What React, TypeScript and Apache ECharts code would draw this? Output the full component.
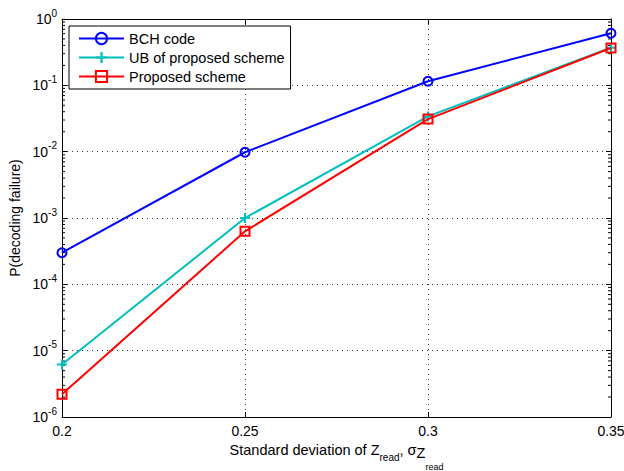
import React, { useEffect, useRef } from "react";
import * as echarts from "echarts";

const xValues = [0.2, 0.25, 0.3, 0.35];
const bchCode = [3.0e-4, 9.8e-3, 0.115, 0.61];
const ubProposed = [6.2e-6, 1.0e-3, 0.034, 0.37];
const proposedScheme = [2.2e-6, 6.3e-4, 0.031, 0.365];
const seriesNames = ["BCH code", "UB of proposed scheme", "Proposed scheme"];
const xTickInterval = 0.05;
const xMin = 0.2;
const xMax = 0.35;
const yMin = 1e-6;
const yMax = 1;
const minorMultipliers = [2, 3, 4, 5, 6, 7, 8, 9];
const minorDecades = [-6, -5, -4, -3, -2, -1];

const FONT = "'Liberation Sans', Arial, Helvetica, sans-serif";

export default function App() {
  const ref = useRef<HTMLDivElement>(null);
  useEffect(() => {
    if (!ref.current) return;
    const chart = echarts.init(ref.current, undefined, { renderer: "svg" });
    const pairs = (ys: number[]) => xValues.map((x, i) => [x, ys[i]]);
    const minorData: number[][] = [];
    minorDecades.forEach((d) =>
      minorMultipliers.forEach((m) => minorData.push([xMin, m * Math.pow(10, d)]))
    );
    const crossPath = "path://M4,0H6V4H10V6H6V10H4V6H0V4H4Z";
    const axisLineStyle = { color: "#000", width: 1 };
    const gridLine = { show: true, lineStyle: { color: "#333", type: [1, 4] as any, width: 1 } };
    const yLabelFmt = (v: number) => {
      const e = Math.round(Math.log10(v));
      return `{b|10}{e|${e}}`;
    };
    const yRich = {
      b: { fontSize: 14, fontFamily: FONT, color: "#000" },
      e: { fontSize: 10, fontFamily: FONT, color: "#000", padding: [0, 0, 12, 0] },
    };
    const option: any = {
      animation: false,
      backgroundColor: "#fff",
      textStyle: { fontFamily: FONT },
      grid: {
        left: 62,
        right: 13,
        top: 19,
        bottom: 54,
        containLabel: false,
        outerBoundsMode: "none",
      },
      legend: {
        data: seriesNames,
        orient: "vertical",
        left: 69,
        top: 26,
        padding: [5, 6, 5, 9],
        itemWidth: 45,
        itemHeight: 14,
        itemGap: 4,
        backgroundColor: "#fff",
        borderColor: "#000",
        borderWidth: 1,
        borderRadius: 0,
        textStyle: { fontSize: 14.5, color: "#000", fontFamily: FONT, padding: [0, 0, 0, 0] },
      },
      xAxis: [
        {
          type: "value",
          min: xMin,
          max: xMax,
          interval: xTickInterval,
          position: "bottom",
          axisLine: { show: true, lineStyle: axisLineStyle },
          axisTick: { show: true, inside: true, length: 5, lineStyle: { color: "#000" } },
          axisLabel: {
            show: true,
            fontSize: 14,
            color: "#000",
            fontFamily: FONT,
            margin: 7,
            formatter: (v: number) => String(parseFloat(v.toFixed(2))),
          },
          splitLine: gridLine,
          name: "Standard deviation of Z{s|read}, σ{z|Z}{ss|read}",
          nameLocation: "middle",
          nameGap: 4,
          nameTextStyle: {
            fontSize: 14.5,
            color: "#000",
            fontFamily: FONT,
            rich: {
              s: { fontSize: 10, fontFamily: FONT, color: "#000", padding: [14, 0, 0, 0] },
              z: { fontSize: 14.5, fontFamily: FONT, color: "#000", padding: [6, 0, 0, 0] },
              ss: { fontSize: 9, fontFamily: FONT, color: "#000", padding: [33, 0, 0, 0] },
            },
          },
        },
        {
          type: "value",
          min: xMin,
          max: xMax,
          interval: xTickInterval,
          position: "top",
          axisLine: { show: true, lineStyle: axisLineStyle },
          axisTick: { show: true, inside: true, length: 5, lineStyle: { color: "#000" } },
          axisLabel: { show: false },
          splitLine: { show: false },
        },
      ],
      yAxis: [
        {
          type: "log",
          logBase: 10,
          min: yMin,
          max: yMax,
          position: "left",
          axisLine: { show: true, lineStyle: axisLineStyle },
          axisTick: { show: true, inside: true, length: 5, lineStyle: { color: "#000" } },
          axisLabel: { show: true, margin: 5, formatter: yLabelFmt, rich: yRich },
          splitLine: gridLine,
          name: "P(decoding failure)",
          nameLocation: "middle",
          nameGap: 35,
          nameTextStyle: { fontSize: 14, color: "#000", fontFamily: FONT },
        },
        {
          type: "log",
          logBase: 10,
          min: yMin,
          max: yMax,
          position: "right",
          axisLine: { show: true, lineStyle: axisLineStyle },
          axisTick: { show: true, inside: true, length: 5, lineStyle: { color: "#000" } },
          axisLabel: { show: false },
          splitLine: { show: false },
        },
      ],
      series: [
        {
          type: "custom",
          name: "minorTicks",
          coordinateSystem: "cartesian2d",
          xAxisIndex: 0,
          yAxisIndex: 0,
          silent: true,
          clip: false,
          data: minorData,
          renderItem: (params: any, api: any) => {
            const v = api.value(1);
            const pL = api.coord([xMin, v]);
            const pR = api.coord([xMax, v]);
            const st = { stroke: "#000", lineWidth: 1 };
            return {
              type: "group",
              children: [
                { type: "line", shape: { x1: pL[0], y1: pL[1], x2: pL[0] + 3, y2: pL[1] }, style: st },
                { type: "line", shape: { x1: pR[0] - 3, y1: pR[1], x2: pR[0], y2: pR[1] }, style: st },
              ],
            };
          },
        },
        {
          type: "line",
          name: seriesNames[0],
          data: pairs(bchCode),
          symbol: "circle",
          symbolSize: 9,
          showAllSymbol: true,
          color: "#0000ff",
          lineStyle: { color: "#0000ff", width: 2 },
          itemStyle: { color: "rgba(255,255,255,0)", borderColor: "#0000ff", borderWidth: 2 },
          z: 3,
        },
        {
          type: "line",
          name: seriesNames[1],
          data: pairs(ubProposed),
          symbol: crossPath,
          symbolSize: 10,
          color: "#00bfbf",
          lineStyle: { color: "#00bfbf", width: 2 },
          itemStyle: { color: "#00bfbf", borderWidth: 0 },
          z: 3,
        },
        {
          type: "line",
          name: seriesNames[2],
          data: pairs(proposedScheme),
          symbol: "rect",
          symbolSize: 9,
          color: "#ff0000",
          lineStyle: { color: "#ff0000", width: 2 },
          itemStyle: { color: "rgba(255,255,255,0)", borderColor: "#ff0000", borderWidth: 2 },
          z: 4,
        },
      ],
    };
    chart.setOption(option);
    return () => chart.dispose();
  }, []);
  return (
    <div
      ref={ref}
      style={{ position: "absolute", left: 0, top: 0, width: 624, height: 471 }}
    />
  );
}
